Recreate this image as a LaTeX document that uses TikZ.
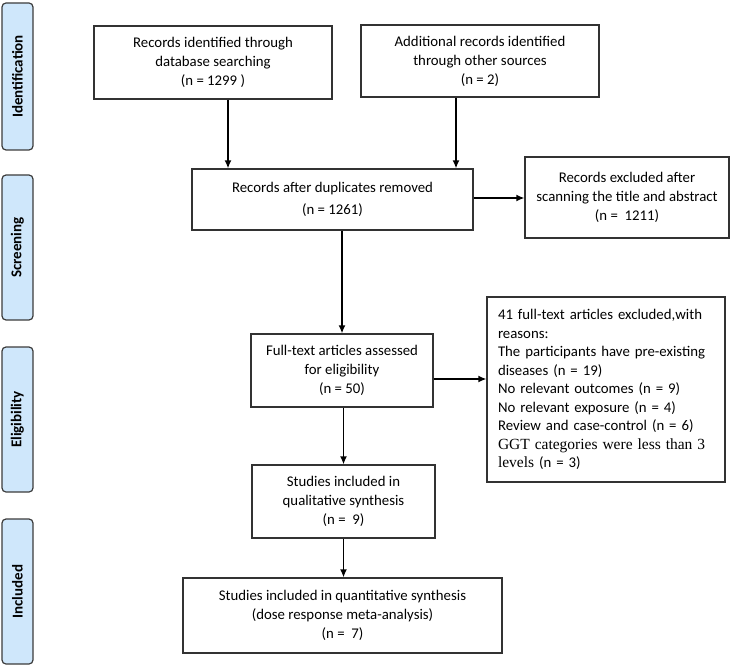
\documentclass[tikz,border=0pt]{standalone}
\usepackage{fontspec}
\setmainfont{Carlito}
\newfontfamily\tnr{Liberation Serif}
\usetikzlibrary{arrows.meta}
\definecolor{lblfill}{RGB}{207,231,251}
\definecolor{lbldraw}{RGB}{60,60,60}
\definecolor{boxdraw}{RGB}{50,50,50}
\begin{document}
\begin{tikzpicture}[x=1pt,y=-1pt,
  box/.style={draw=boxdraw,line width=1.3pt,align=center,inner sep=0pt,
    font=\fontsize{14.8}{19}\selectfont},
  phase/.style={draw=lbldraw,fill=lblfill,line width=1.2pt,rounded corners=4pt,
    minimum width=31pt,inner sep=0pt,rotate=90,
    font=\bfseries\fontsize{15}{17}\selectfont},
  arr/.style={line width=1.4pt,-{Latex[length=8pt,width=7pt]}}]
\useasboundingbox (0,0) rectangle (733,668);
% phase labels
\node[phase,minimum width=147pt,minimum height=31pt] (p1) at (17.5,76.5) {Identification};
\node[phase,minimum width=145pt,minimum height=31pt] (p2) at (17.5,247.5) {Screening};
\node[phase,minimum width=145pt,minimum height=31pt] (p3) at (17.5,419.5) {Eligibility};
\node[phase,minimum width=145pt,minimum height=31pt] (p4) at (17.5,591.5) {Included};
% boxes
\node[box,minimum width=238pt,minimum height=73pt] (A) at (213,62.5)
  {Records identified through\\database searching\\(n = 1299 )};
\node[box,minimum width=238pt,minimum height=72pt] (B) at (480,61)
  {Additional records identified\\through other sources\\(n = 2)};
\node[box,minimum width=281pt,minimum height=61pt,
  font=\fontsize{14.8}{22}\selectfont] (C) at (332.5,199.5)
  {Records after duplicates removed\\(n = 1261)};
\node[box,minimum width=204pt,minimum height=81pt] (D) at (627,197.5)
  {Records excluded after\\scanning the title and abstract\\(n =\ \ 1211)};
\node[box,minimum width=182pt,minimum height=73pt] (E) at (342,370.5)
  {Full-text articles assessed\\for eligibility\\(n = 50)};
\node[box,minimum width=238pt,minimum height=185pt,align=left,text width=216pt,
  inner xsep=11pt,font=\fontsize{14.8}{18.5}\selectfont] (F) at (606,389.5)
  {41 full-text articles excluded,with\\reasons:\\The participants have pre-existing\\diseases (n = 19)\\No relevant outcomes (n = 9)\\No relevant exposure (n = 4)\\Review and case-control (n = 6)\\\mbox{\tnr\fontsize{15.5}{18.5}\selectfont GGT categories were less than 3}\\\mbox{{\tnr\fontsize{15.5}{18.5}\selectfont levels} (n = 3)}};
\node[box,minimum width=183pt,minimum height=73pt] (G) at (343.5,501.5)
  {Studies included in\\qualitative synthesis\\(n =\ \ 9)};
\node[box,minimum width=319pt,minimum height=75pt] (H) at (342.5,615.5)
  {Studies included in quantitative synthesis\\(dose response meta-analysis)\\(n =\ \ 7)};
% arrows
\coordinate (a1) at ([xshift=15pt]A.south);
\draw[arr] (a1) -- (a1 |- C.north);
\coordinate (b1) at ([xshift=-24pt]B.south);
\draw[arr] (b1) -- (b1 |- C.north);
\coordinate (c1) at ([yshift=1.5pt]C.east);
\draw[arr] (c1) -- (c1 -| D.west);
\draw[arr] (E.north |- C.south) -- (E.north);
\coordinate (e1) at ([yshift=-8.5pt]E.east);
\draw[arr] (e1) -- (e1 -| F.west);
\draw[arr] (G.north |- E.south) -- (G.north);
\draw[arr] (G.south) -- (G.south |- H.north);
\end{tikzpicture}
\end{document}
